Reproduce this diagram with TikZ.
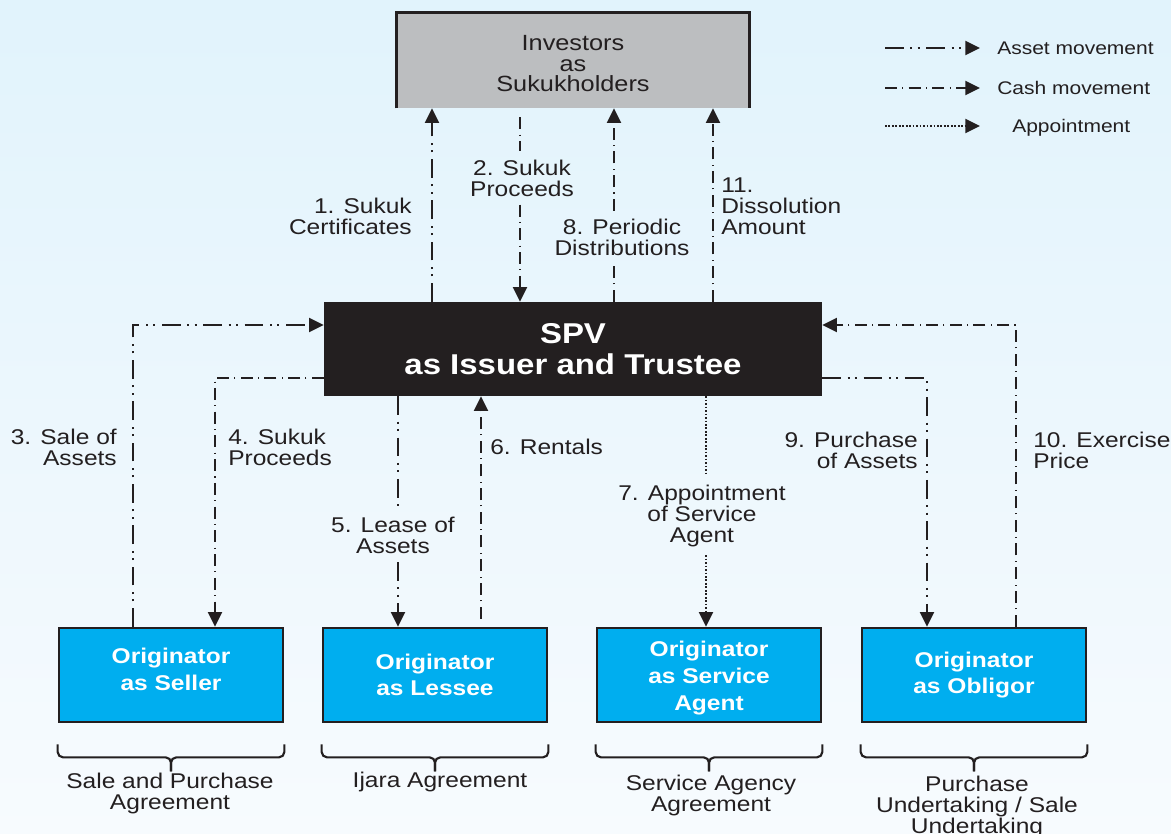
\documentclass[tikz,border=0pt]{standalone}
\usepackage{fontspec}
\setmainfont{Liberation Sans}[FakeStretch=1.15]
\usetikzlibrary{arrows.meta,calc}
\definecolor{ink}{HTML}{231F20}
\definecolor{bgtop}{HTML}{E1F3FC}
\definecolor{bgbot}{HTML}{F7FBFE}
\definecolor{invgray}{HTML}{BCBEC0}
\definecolor{origblue}{HTML}{00AEEF}
\newcommand\agrbrace[1]{%
  \draw[bracestyle] ([yshift=-15.75pt]#1.south west) |- ([yshift=-25.5pt]#1.south) -- ([yshift=-36pt]#1.south);
  \draw[bracestyle] ([yshift=-15.75pt]#1.south east) |- ([yshift=-25.5pt]#1.south) -- ([yshift=-36pt]#1.south);}
\begin{document}
\begin{tikzpicture}[x=0.75pt,y=-0.75pt,
  tip/.style={-{Triangle[length=11pt,width=10.5pt]}},
  flowline/.style={draw=ink,line width=1.6pt},
  asset/.style={flowline,dash pattern=on 14pt off 5pt on 1.5pt off 4pt on 1.5pt off 5pt},
  cash/.style={flowline,dash pattern=on 9pt off 4pt on 0.8pt off 4pt},
  appoint/.style={flowline,dash pattern=on 1.3pt off 1.3pt},
  lbl/.style={font=\fontsize{16}{15.75}\selectfont,text=ink,inner sep=0pt,align=center},
  legendtxt/.style={font=\fontsize{13.7}{15}\selectfont,text=ink,inner sep=0pt},
  origbox/.style={fill=origblue,draw=ink,line width=2pt,minimum width=168pt,minimum height=70.5pt,
    text=white,font=\bfseries\fontsize{16}{20}\selectfont,align=center,inner sep=0pt},
  bracestyle/.style={draw=ink,line width=1.6pt,rounded corners=4pt}
]
\shade[top color=bgtop,bottom color=bgbot] (0,0) rectangle (1171,834);
\useasboundingbox (0,0) rectangle (1171,834);

% boxes
\node[fill=invgray,minimum width=264pt,minimum height=71.25pt,inner sep=0pt,text=ink,
  font=\fontsize{16.5}{15.4}\selectfont,align=center] (inv) at (573,60.5) {\rule{0pt}{16pt}Investors\\as\\Sukukholders};
\draw[ink,line width=2.2pt] (inv.south west) -- (inv.north west) -- (inv.north east) -- (inv.south east);

\node[fill=ink,minimum width=373.5pt,minimum height=70.5pt,inner sep=0pt,text=white,
  font=\bfseries\fontsize{21.5}{23.25}\selectfont,align=center] (spv) at (573,349) {SPV\\as Issuer and Trustee};

\node[origbox] (seller) at (171,675) {Originator\\as Seller\rule[-9pt]{0pt}{9pt}};
\node[origbox] (lessee) at (435,675) {Originator\\as Lessee};
\node[origbox] (agent) at (709,675) {\rule{0pt}{16pt}Originator\\as Service\\Agent};
\node[origbox] (obligor) at (974,675) {Originator\\as Obligor};

% labels
\node[lbl,anchor=east,align=right] (l1) at (412,216.5) {1. Sukuk\\Certificates};
\node[lbl] (l2) at (522,178) {2. Sukuk\\Proceeds};
\node[lbl,anchor=east,align=right] (l3) at (117,447.5) {3. Sale of\\Assets};
\node[lbl,anchor=west,align=left] (l4) at (228,447.5) {4. Sukuk\\Proceeds};
\node[lbl] (l5) at (393,535.5) {5. Lease of\\Assets};
\node[lbl,anchor=west] (l6) at (490,447) {6. Rentals};
\node[lbl] (l7) at (702,516) {7. Appointment\\of Service\\Agent};
\node[lbl] (l8) at (622,237.5) {8. Periodic\\Distributions};
\node[lbl,anchor=east,align=right] (l9) at (918,450.5) {9. Purchase\\of Assets};
\node[lbl,anchor=west,align=left] (l10) at (1033,450.5) {10. Exercise\\Price};
\node[lbl,anchor=west,align=left] (l11) at (721,206.5) {11.\\Dissolution\\Amount};

% helper coordinates
\coordinate (c1) at (432,0);
\coordinate (c2) at (520,0);
\coordinate (c3) at (133,325);
\coordinate (c4) at (215,378);
\coordinate (c5) at (398,0);
\coordinate (c6) at (481,0);
\coordinate (c7) at (706,0);
\coordinate (c8) at (614,0);
\coordinate (c9) at (927,378);
\coordinate (c10) at (1016,325);
\coordinate (c11) at (713,0);

% connectors
\draw[asset,tip] (spv.north -| c1) -- (inv.south -| c1);
\draw[cash,shorten <=6.75pt,shorten >=6pt] (inv.south -| c2) -- (l2.north -| c2);
\draw[cash,tip,shorten <=6pt] (l2.south -| c2) -- (spv.north -| c2);
\draw[asset,tip] (seller.north -| c3) |- (spv.west |- c3);
\draw[cash,tip] (spv.west |- c4) -| (seller.north -| c4);
\draw[asset,shorten >=7pt] (spv.south -| c5) -- (l5.north -| c5);
\draw[asset,tip,shorten <=6pt] (l5.south -| c5) -- (lessee.north -| c5);
\draw[cash,tip,shorten <=6pt] (lessee.north -| c6) -- (spv.south -| c6);
\draw[appoint,shorten >=7pt] (spv.south -| c7) -- (l7.north -| c7);
\draw[appoint,tip,shorten <=6pt] (l7.south -| c7) -- (agent.north -| c7);
\draw[cash,shorten >=6pt] (spv.north -| c8) -- (l8.south -| c8);
\draw[cash,tip,shorten <=6pt] (l8.north -| c8) -- (inv.south -| c8);
\draw[asset,tip] (spv.east |- c9) -| (obligor.north -| c9);
\draw[cash,tip] (obligor.north -| c10) |- (spv.east |- c10);
\draw[cash,tip] (spv.north -| c11) -- (inv.south -| c11);

% braces
\agrbrace{seller}
\agrbrace{lessee}
\agrbrace{agent}
\agrbrace{obligor}
\node[lbl] (b1) at (170,793) {Sale and Purchase\\Agreement};
\node[lbl] (b2) at (440,782) {Ijara Agreement};
\node[lbl] (b3) at (711,795.5) {Service Agency\\Agreement};
\node[lbl] (b4) at (977,807) {Purchase\\Undertaking / Sale\\Undertaking};

% legend
\coordinate (la0) at (885,48); \coordinate (la1) at (980,48);
\coordinate (lb0) at (885,88); \coordinate (lb1) at (980,88);
\coordinate (lc0) at (885,126); \coordinate (lc1) at (980,126);
\draw[asset,tip] (la0) -- (la1);
\draw[cash,tip] (lb0) -- (lb1);
\draw[appoint,tip] (lc0) -- (lc1);
\node[legendtxt,anchor=base west] (lat) at (997,54.5) {Asset movement};
\node[legendtxt,anchor=base west] (lbt) at (997,94.5) {Cash movement};
\node[legendtxt,anchor=base west] (lct) at (1012,132.5) {Appointment};
\end{tikzpicture}
\end{document}
